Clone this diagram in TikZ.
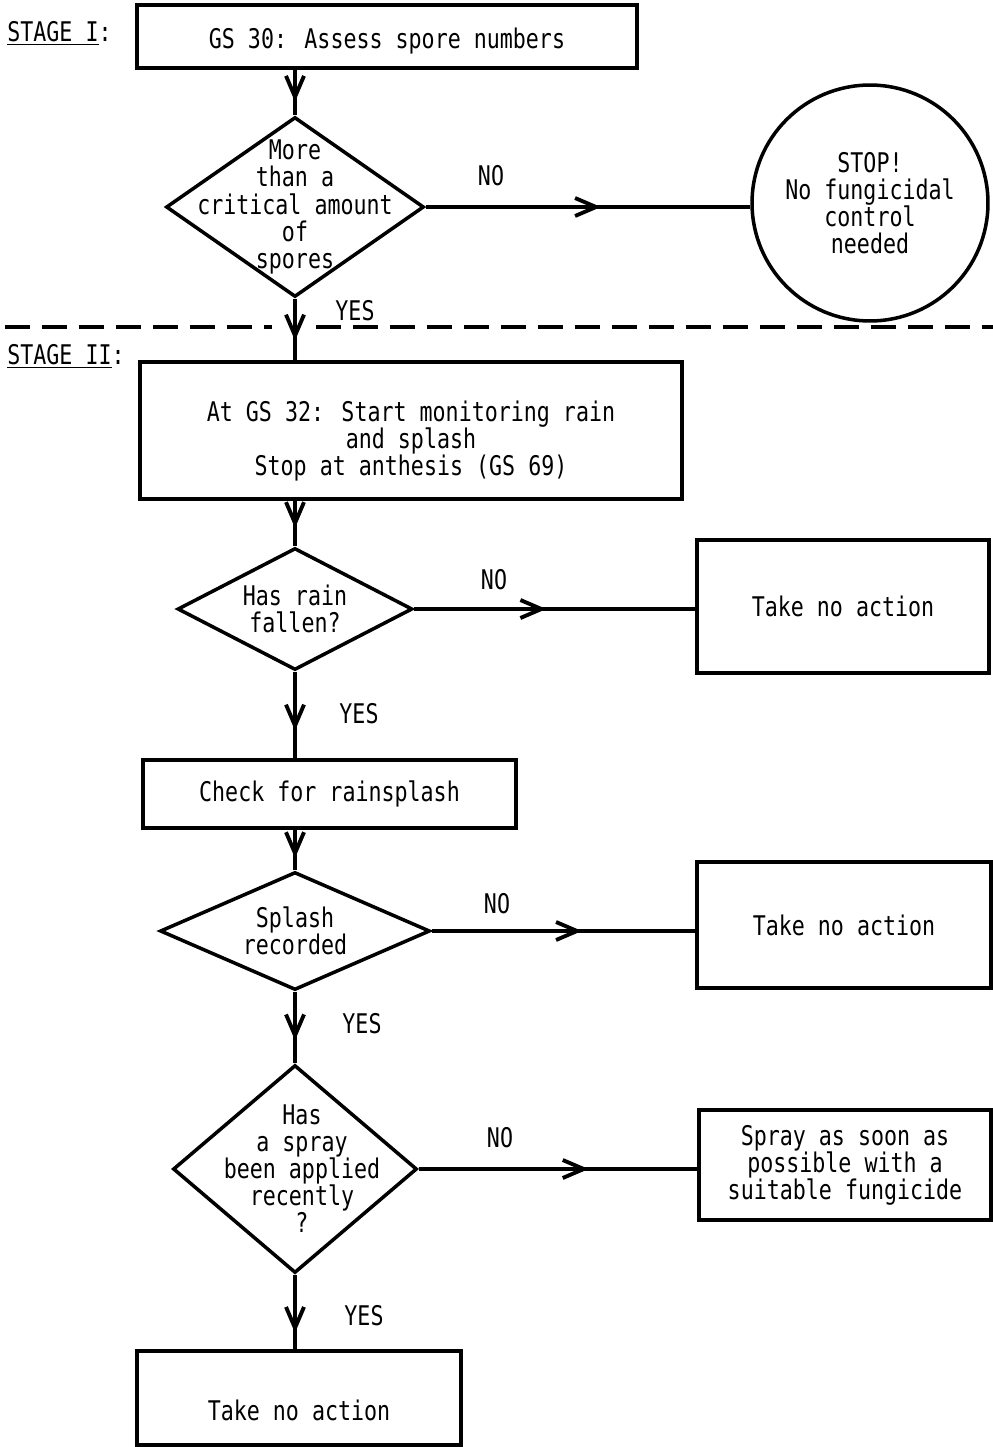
\documentclass[tikz,border=0pt]{standalone}
\usepackage{fontspec}
\setmainfont{DejaVu Sans Mono}[FakeStretch=0.8]
\usetikzlibrary{shapes.geometric,arrows.meta,decorations.markings}

\tikzset{
  box/.style={draw, line width=2pt, rectangle, align=center, inner sep=0pt},
  decision/.style={draw, line width=2pt, diamond, inner sep=0pt},
  dtext/.style={align=center, inner sep=0pt},
  flow/.style={line width=2.2pt, postaction={decorate},
    decoration={markings, mark=at position #1 with {\arrow{Straight Barb[length=0.42cm,width=0.36cm,line width=2.2pt]}}}},
  flow/.default=0.7,
  stagedash/.style={line width=2.8pt, dash pattern=on 0.5cm off 0.24cm},
}

\begin{document}
\fontsize{15.4}{15.4}\selectfont
\begin{tikzpicture}[x=0.02cm, y=-0.02cm]
    \useasboundingbox (0,0) rectangle (993,1447);

    % stage I
    \node[anchor=west, inner sep=0pt] (stage1) at (7,33) {\underline{STAGE I}:};
    \node[box, minimum width=10cm, minimum height=1.26cm, line width=2.6pt] (assess) at (387,36.5) {\rule{0pt}{0.6cm}GS 30: Assess spore numbers};
    \node[decision, minimum width=5.16cm, minimum height=3.6cm,
          label={[dtext]center:{More\\than a\\critical amount\\of\\spores}}] (spores) at (295,207) {};
    \node[circle, draw, line width=2pt, minimum size=4.72cm, align=center, inner sep=0pt] (stop) at (870,203) {STOP!\\No fungicidal\\control\\needed};

    \draw[flow] (spores.north |- assess.south) -- (spores.north);
    \draw[flow=0.54] (spores.east) -- (spores.east -| stop.west);
    \node (no1) at (491,176) {NO};
    \node (yes1) at (355,311) {YES};

    \draw[stagedash] (5,327) -- (272,327);
    \draw[stagedash] (316,327) -- (993,327);

    % stage II
    \node[anchor=west, inner sep=0pt] (stage2) at (7,356) {\underline{STAGE II}:};
    \node[box, minimum width=10.84cm, minimum height=2.74cm] (monitor) at (411,430.5) {\rule{0pt}{0.85cm}At GS 32: Start monitoring rain\\and splash\\Stop at anthesis (GS 69)};
    \draw[flow=0.68] (spores.south) -- (spores.south |- monitor.north);

    \node[decision, minimum width=4.7cm, minimum height=2.44cm,
          label={[dtext]center:{Has rain\\fallen?}}] (rain) at (295,609) {};
    \node[box, minimum width=5.84cm, minimum height=2.66cm] (none1) at (843,606.5) {Take no action};
    \draw[flow=0.6] (rain.north |- monitor.south) -- (rain.north);
    \draw[flow=0.47] (rain.east) -- (rain.east -| none1.west);
    \node (no2) at (494,580) {NO};
    \node (yes2) at (359,714) {YES};

    \node[box, minimum width=7.46cm, minimum height=1.36cm] (check) at (329.5,794) {Check for rainsplash};
    \draw[flow=0.68] (rain.south) -- (rain.south |- check.north);

    \node[decision, minimum width=5.4cm, minimum height=2.36cm,
          label={[dtext]center:{Splash\\recorded}}] (splash) at (295,931) {};
    \node[box, minimum width=5.88cm, minimum height=2.52cm] (none2) at (844,925) {Take no action};
    \draw[flow] (splash.north |- check.south) -- (splash.north);
    \draw[flow=0.57] (splash.east) -- (splash.east -| none2.west);
    \node (no3) at (497,904) {NO};
    \node (yes3) at (362,1024) {YES};

    \node[decision, minimum width=4.88cm, minimum height=4.16cm,
          label={[dtext, xshift=0.14cm]center:{Has\\a spray\\been applied\\recently\\?}}] (sprayed) at (295,1169) {};
    \node[box, minimum width=5.84cm, minimum height=2.2cm] (spray) at (845,1165) {Spray as soon as\\possible with a\\suitable fungicide};
    \draw[flow=0.68] (splash.south) -- (sprayed.north);
    \draw[flow=0.61] (sprayed.east) -- (sprayed.east -| spray.west);
    \node (no4) at (500,1138) {NO};
    \node (yes4) at (364,1316) {YES};

    \node[box, minimum width=6.48cm, minimum height=1.88cm] (none3) at (299,1398) {\rule{0pt}{0.9cm}Take no action};
    \draw[flow=0.78] (sprayed.south) -- (sprayed.south |- none3.north);
\end{tikzpicture}
\end{document}
